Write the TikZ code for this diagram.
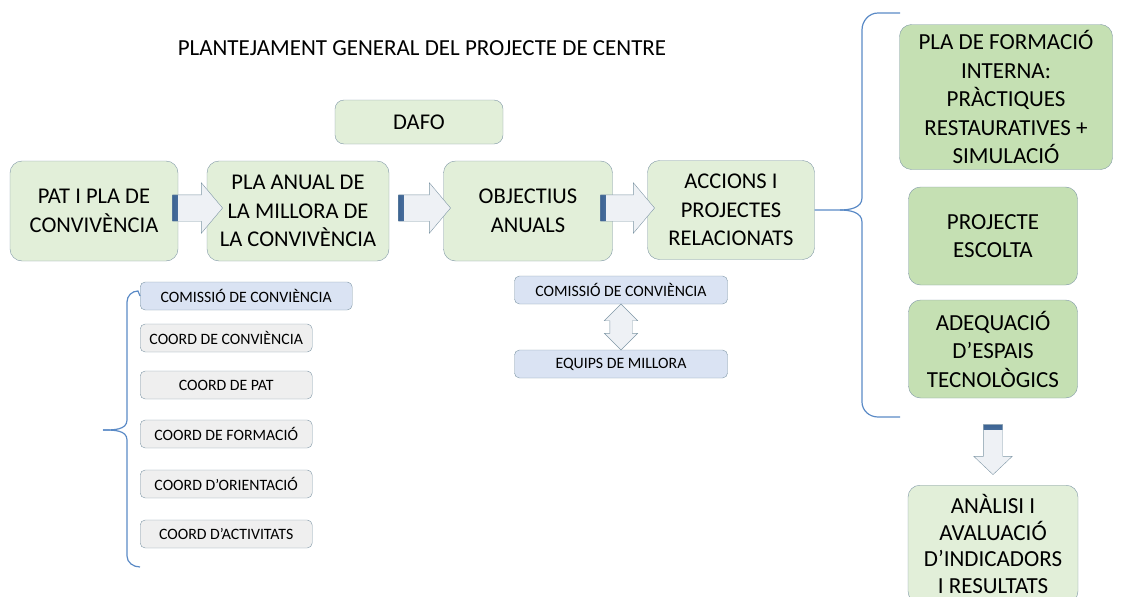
\documentclass[tikz,border=0pt]{standalone}
\usepackage{fontspec}
\setmainfont{Carlito}
\usepackage{tikz}
\usetikzlibrary{positioning, shapes.arrows, calc}

\definecolor{palegreen}{HTML}{E2EFD9}
\definecolor{darkgreen}{HTML}{C5E0B3}
\definecolor{boxline}{HTML}{7F97A6}
\definecolor{smallgrey}{HTML}{EFEFEF}
\definecolor{smallblue}{HTML}{DAE3F3}
\definecolor{arrowfill}{HTML}{EEF1F5}
\definecolor{bracecol}{HTML}{5A8AC6}
\definecolor{bardark}{HTML}{3D6494}
\definecolor{barlight}{HTML}{A9C0DD}

\begin{document}
\begin{tikzpicture}[x=1pt, y=-1pt]
\tikzstyle{bigbox}=[draw=boxline, fill=palegreen, rectangle, rounded corners=12pt, align=center, inner sep=2pt, font=\fontsize{22.5}{28.5}\selectfont]
\tikzstyle{greenbox}=[bigbox, fill=darkgreen, font=\fontsize{23}{28.5}\selectfont]
\tikzstyle{smallbox}=[draw=boxline, fill=smallgrey, rectangle, rounded corners=5pt, align=center, minimum height=28pt, font=\fontsize{15.8}{18}\selectfont]
\tikzstyle{blockarrow}=[draw=boxline, fill=arrowfill, single arrow, single arrow tip angle=100, single arrow head extend=12pt, inner sep=13pt]
\tikzstyle{tailbar}=[path picture={\shade[left color=bardark, right color=barlight] (path picture bounding box.north west) rectangle ([xshift=5pt]path picture bounding box.south west);}]
\tikzstyle{brace}=[draw=bracecol, line width=1.2pt]

\useasboundingbox (0,0) rectangle (1125,597);

% titol
\node[font=\fontsize{23}{26}\selectfont](title) at (422,48){PLANTEJAMENT GENERAL DEL PROJECTE DE CENTRE};

% fila principal
\node[bigbox, minimum width=168pt, minimum height=100pt](pat) at (94,211){PAT I PLA DE\\CONVIVÈNCIA};
\node[bigbox, minimum width=182pt, minimum height=100pt](anual) at (298,211){PLA ANUAL DE\\LA MILLORA DE\\LA CONVIVÈNCIA};
\node[bigbox, minimum width=169pt, minimum height=100pt](obj) at (528,211){OBJECTIUS\\ANUALS};
\node[bigbox, minimum width=167pt, minimum height=99pt](accions) at (731,210){ACCIONS I\\PROJECTES\\RELACIONATS};
\node[bigbox, minimum width=168pt, minimum height=44pt, rounded corners=9pt](dafo) at (419,122){DAFO};

% fletxes
\node[blockarrow, tailbar, minimum height=50pt](arr1) at (192,208){};
\node[blockarrow, tailbar, minimum height=52pt](arr2) at (419,208){};
\node[blockarrow, tailbar, minimum height=54pt](arr3) at (622,208){};

% comissio i equips
\node[smallbox, fill=smallblue, minimum width=213pt](comis2) at (621,290){COMISSIÓ DE CONVIÈNCIA};
\node[smallbox, fill=smallblue, minimum width=213pt](equips) at (621,364){EQUIPS DE MILLORA};
\node[draw=boxline, fill=arrowfill, double arrow, shape border rotate=90, double arrow tip angle=90, double arrow head extend=5.5pt, inner sep=11pt, minimum height=46pt](darr) at ($(comis2.south)!.5!(equips.north)$){};

% columna esquerra
\node[smallbox, fill=smallblue, minimum width=212pt, anchor=west](comis1) at (140,296){COMISSIÓ DE CONVIÈNCIA};
\node[smallbox, minimum width=172pt, anchor=west](cconv) at (140,338){COORD DE CONVIÈNCIA};
\node[smallbox, minimum width=172pt, anchor=west](cpat) at (140,385){COORD DE PAT};
\node[smallbox, minimum width=172pt, anchor=west](cform) at (140,434){COORD DE FORMACIÓ};
\node[smallbox, minimum width=172pt, anchor=west](corient) at (140,484){COORD D’ORIENTACIÓ};
\node[smallbox, minimum width=172pt, anchor=west](cactiv) at (140,534){COORD D’ACTIVITATS};

\coordinate(ltick) at (103,430);
\path[brace](comis1.west) -- (138,291) to[out=180, in=90] (127,302) -- (127,420) to[out=270, in=0] (ltick);
\path[brace](ltick) to[out=0, in=90] (127,440) -- (127,556) to[out=270, in=180] (140,567);

% columna dreta
\node[greenbox, minimum width=213pt, minimum height=145pt](plaform) at (1006,97){PLA DE FORMACIÓ\\INTERNA:\\PRÀCTIQUES\\RESTAURATIVES +\\SIMULACIÓ};
\node[greenbox, minimum width=169pt, minimum height=98pt](escolta) at (993,236){PROJECTE\\ESCOLTA};
\node[greenbox, minimum width=169pt, minimum height=98pt](espais) at (993,349){ADEQUACIÓ\\D’ESPAIS\\TECNOLÒGICS};
\node[bigbox, font=\fontsize{23}{26.5}\selectfont, minimum width=170pt, minimum height=118pt, anchor=north](analisi) at (993,485){ANÀLISI I\\AVALUACIÓ\\D’INDICADORS\\I RESULTATS};

\path[brace](accions.east) -- (840,210) to[out=0, in=270] (862,198) -- (862,30) to[out=90, in=180] (878,13) -- (900,13);
\path[brace](840,210) to[out=0, in=90] (862,222) -- (862,402) to[out=270, in=180] (878,417) -- (900,417);

\node[blockarrow, inner sep=9.5pt, single arrow head extend=9.5pt, single arrow tip angle=93, minimum height=50pt, shape border rotate=270, path picture={\shade[top color=bardark, bottom color=barlight] (path picture bounding box.north west) rectangle ([yshift=-5pt]path picture bounding box.north east);}](arr4) at (993,445){};

\end{tikzpicture}
\end{document}
